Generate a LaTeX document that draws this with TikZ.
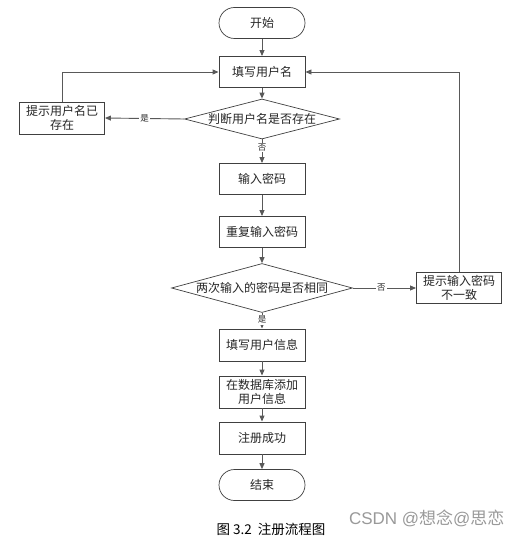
\documentclass[tikz,border=0pt]{standalone}
\usepackage{fontspec}
\newfontfamily\cjk{Noto Sans CJK SC}
\usetikzlibrary{shapes.geometric,arrows.meta}
\begin{document}
\begin{tikzpicture}[x=1pt,y=-1pt,
  every node/.style={font=\cjk\fontsize{12}{13.5}\selectfont, text=black!85},
  proc/.style={draw=black!75, line width=0.9pt, minimum width=86pt, minimum height=31pt, inner sep=1pt, align=center, fill=white},
  term/.style={draw=black!75, line width=0.7pt, rounded corners=15.5pt, minimum width=86pt, minimum height=31pt, fill=white},
  dec/.style={draw=black!75, line width=0.7pt, diamond, aspect=3.9, inner sep=0pt, fill=white},
  conn/.style={draw=black!65, line width=0.9pt, -{Triangle[length=6pt,width=5pt]}},
  lbl/.style={font=\cjk\fontsize{8.5}{10}\selectfont, fill=white, inner sep=1pt}
]
\useasboundingbox (0,0) rectangle (522,537);
\node[term] (start) at (262,23) {开始};
\node[proc] (name) at (262,72) {填写用户名};
\node[dec, minimum width=155pt, minimum height=40pt] (chk) at (262,119) {};
\node at (262,119) {判断用户名是否存在};
\node[proc, minimum width=85pt, minimum height=32pt] (exist) at (62,118) {提示用户名已\\存在};
\node[proc] (pwd) at (262,179) {输入密码};
\node[proc] (pwd2) at (262,232) {重复输入密码};
\node[dec, minimum width=181pt, minimum height=49pt] (same) at (262,288) {};
\node at (262,288) {两次输入的密码是否相同};
\node[proc, minimum width=85pt, minimum height=31pt] (diff) at (459,288) {提示输入密码\\不一致};
\node[proc, minimum height=32pt] (info) at (262,345) {填写用户信息};
\node[proc, minimum height=32pt] (db) at (262,392) {在数据库添加\\用户信息};
\node[proc, minimum height=32pt] (ok) at (262,438) {注册成功};
\node[term] (end) at (262,485) {结束};

\draw[conn] (start) -- (name);
\draw[conn] (name) -- (chk);
\draw[conn] (chk.west) -- node[lbl] {是} (exist.east);
\draw[conn] (exist.north) |- (name.west);
\draw[conn] (chk.south) -- node[lbl, pos=0.35] {否} (pwd.north);
\draw[conn] (pwd) -- (pwd2);
\draw[conn] (pwd2) -- (same);
\draw[conn] (same.east) -- node[lbl, pos=0.45] {否} (diff.west);
\draw[conn] (diff.north) |- (name.east);
\draw[conn] (same.south) -- node[lbl, pos=0.45] {是} (info.north);
\draw[conn] (info) -- (db);
\draw[conn] (db) -- (ok);
\draw[conn] (ok) -- (end);

\node[font=\cjk\fontsize{13.5}{15}\selectfont, text=black] (cap) at (271,529) {图 3.2\ \ 注册流程图};
\node[font=\fontspec{Liberation Sans}\fontsize{17}{19}\selectfont, text=black!40, anchor=east] (wm) at (508,518) {CSDN @{\cjk 想念}@{\cjk 思恋}};
\end{tikzpicture}
\end{document}
